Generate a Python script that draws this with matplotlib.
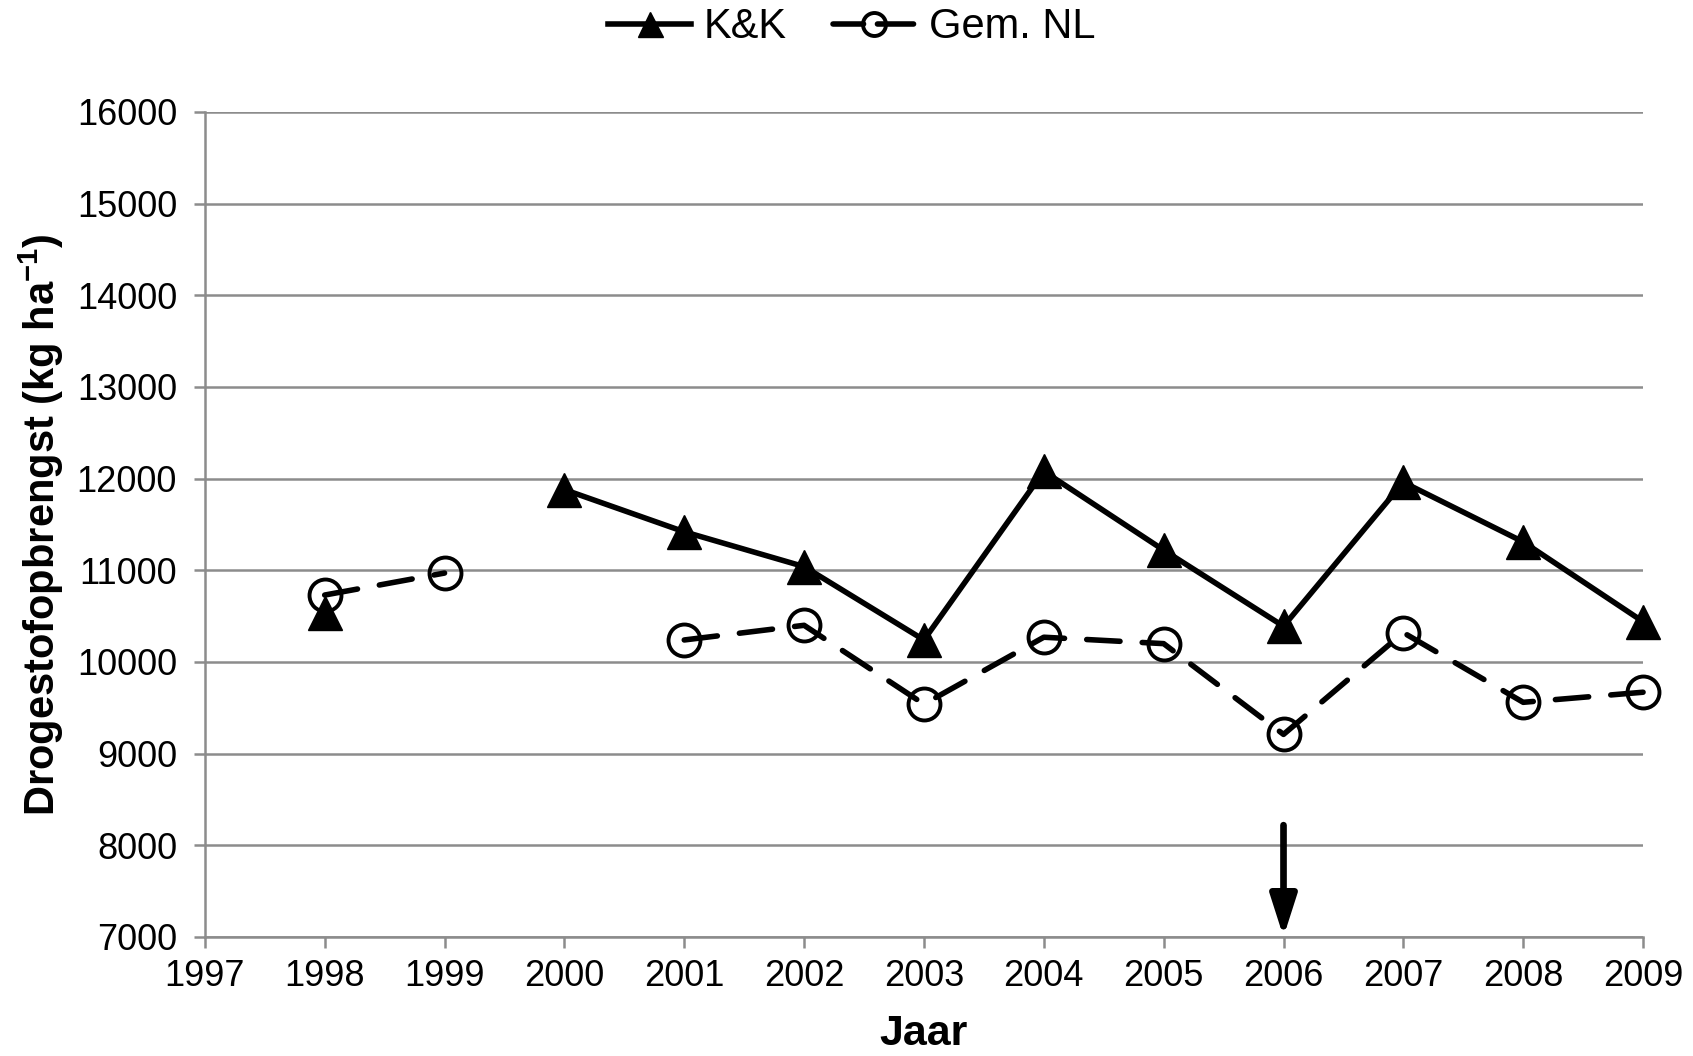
import numpy as np
import matplotlib
matplotlib.use("Agg")
import matplotlib.pyplot as plt

plt.rcParams["font.family"] = ["Liberation Sans", "DejaVu Sans"]
plt.rcParams["mathtext.default"] = "regular"

years = [1998, 1999, 2000, 2001, 2002, 2003, 2004, 2005, 2006, 2007, 2008, 2009]
kk = [10530, np.nan, 11880, 11420, 11040, 10240, 12080, 11220, 10390, 11960, 11310, 10440]
gem_nl = [10730, 10970, np.nan, 10240, 10400, 9540, 10270, 10200, 9210, 10320, 9560, 9670]
arrow_year = 2006

fig = plt.figure(figsize=(16.93, 10.56), dpi=100)
ax = fig.add_axes([0.121, 0.1127, 0.8495, 0.7813])

ax.plot(years, kk, color="black", lw=4, marker="^", ms=25, mfc="black",
        mec="black", label="K&K", zorder=3, clip_on=False)
ax.plot(years, gem_nl, color="black", lw=4, ls=(0, (6, 4)), dash_capstyle="round",
        marker="o", ms=23, mfc="none", mec="black", mew=2.8, label="Gem. NL",
        zorder=3, clip_on=False)

# pijl bij 2006
ax.annotate("", xy=(arrow_year, 7000), xytext=(arrow_year, 8220),
            arrowprops=dict(arrowstyle="-|>,head_width=0.4,head_length=1.25",
                            mutation_scale=20, color="black", lw=4.8,
                            shrinkA=0, shrinkB=0),
            zorder=4)

ax.set_xlim(1997, 2009)
ax.set_ylim(7000, 16000)
ax.set_xticks(range(1997, 2010))
ax.set_yticks(range(7000, 16001, 1000))
ax.yaxis.grid(True, color="#8c8c8c", lw=1.8)
ax.set_axisbelow(True)
for s in ["top", "right"]:
    ax.spines[s].set_visible(False)
for s in ["left", "bottom"]:
    ax.spines[s].set_color("#8c8c8c")
    ax.spines[s].set_linewidth(1.8)
ax.tick_params(axis="both", colors="#8c8c8c", width=1.8, length=8,
               labelsize=26, labelcolor="black")
ax.tick_params(axis="x", pad=8)
ax.tick_params(axis="y", pad=12)

ax.set_xlabel("Jaar", fontsize=31, fontweight="bold", labelpad=14)
ax.set_ylabel("Drogestofopbrengst (kg ha$^{-1}$)", fontsize=30,
              fontweight="bold", labelpad=8)

leg = fig.legend(*ax.get_legend_handles_labels(), loc="center",
                 bbox_to_anchor=(0.503, 0.974), ncol=2, frameon=False,
                 fontsize=30, handlelength=2.0, columnspacing=1.1,
                 handletextpad=0.3, markerscale=0.72)
leg.get_lines()[1].set_linestyle((0, (5.5, 2.5, 6.5, 10)))

fig.savefig("out.png", dpi=100)
